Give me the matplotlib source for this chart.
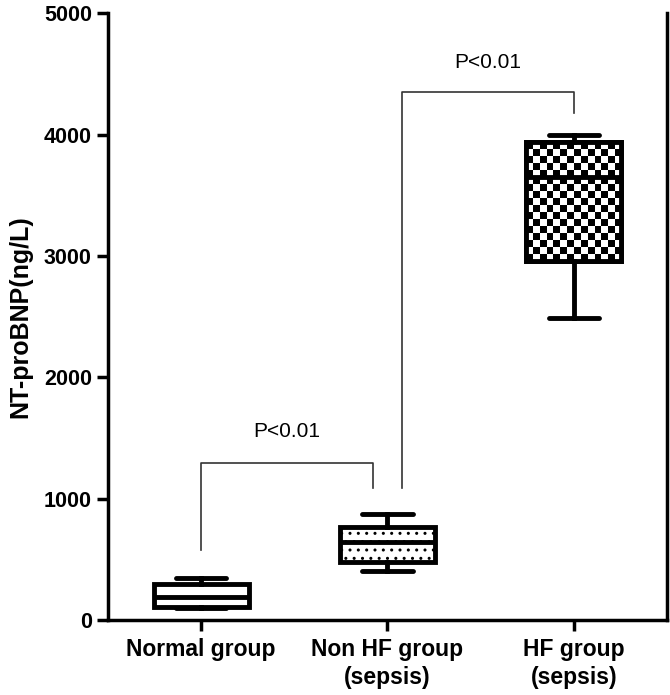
import numpy as np
import matplotlib
matplotlib.use('Agg')
import matplotlib.pyplot as plt

plt.rcParams['font.family'] = ['Liberation Sans', 'DejaVu Sans']
plt.rcParams['hatch.linewidth'] = 1.0

groups = ['Normal group', 'Non HF group\n(sepsis)', 'HF group\n(sepsis)']
whis_low = [95, 405, 2490]
q1 = [107, 478, 2960]
median = [190, 640, 3650]
q3 = [296, 766, 3940]
whis_high = [346, 873, 4000]

# significance brackets: (x_left, x_right, y_top, y_left_end, y_right_end, text_y, label)
brackets = [
    (1.0, 1.92, 1293, 580, 1090, 1550, 'P<0.01'),
    (2.08, 3.0, 4349, 1090, 4175, 4590, 'P<0.01'),
]

stats = []
for i, g in enumerate(groups):
    stats.append({'label': g, 'whislo': whis_low[i], 'q1': q1[i], 'med': median[i],
                  'q3': q3[i], 'whishi': whis_high[i], 'fliers': []})

fig = plt.figure(figsize=(6.7, 6.95), dpi=100)
ax = fig.add_axes([0.161, 0.108, 0.8345, 0.873])

lw = 3.5
bp = ax.bxp(stats, positions=[1, 2, 3], widths=0.51, patch_artist=True, showfliers=False,
            boxprops=dict(linewidth=lw, edgecolor='black', facecolor='white'),
            whiskerprops=dict(linewidth=lw, color='black'),
            capprops=dict(linewidth=lw, color='black', solid_capstyle='round'),
            medianprops=dict(linewidth=lw, color='black'),
            capwidths=0.27)

bp['boxes'][1].set_hatch('..')

# checkerboard fill for the HF box
box = bp['boxes'][2]
verts = box.get_path().vertices
x0, x1 = verts[:, 0].min(), verts[:, 0].max()
y0, y1 = verts[:, 1].min(), verts[:, 1].max()
nx, ny = 14, 17
checker = (np.add.outer(np.arange(ny), np.arange(nx)) % 2).astype(float)
im = ax.imshow(checker, cmap='gray', extent=(x0, x1, y0, y1), aspect='auto',
               interpolation='nearest', zorder=2.5)
im.set_clip_path(box)
for k in ('medians', 'caps', 'whiskers'):
    for a in bp[k]:
        a.set_zorder(3)
box.set_zorder(2)
edge = plt.Rectangle((x0, y0), x1 - x0, y1 - y0, fill=False, linewidth=lw,
                     edgecolor='black', zorder=3)
ax.add_patch(edge)

for xl, xr, yt, yl, yr, ty, lab in brackets:
    ax.plot([xl, xl, xr, xr], [yl, yt, yt, yr], color='#333333', linewidth=1.2)
    ax.text((xl + xr) / 2, ty, lab, ha='center', va='center', fontsize=15)

ax.set_xlim(0.5, 3.5)
ax.set_ylim(0, 5000)
ax.set_yticks([0, 1000, 2000, 3000, 4000, 5000])
ax.set_xticks([1, 2, 3])
ax.set_xticklabels(groups, fontsize=16.5, fontweight='bold', linespacing=1.3)
ax.tick_params(axis='y', labelsize=15.5, width=2.5, length=8)
ax.tick_params(axis='x', width=2.5, length=8, pad=5)
for t in ax.get_yticklabels():
    t.set_fontweight('bold')
ax.set_ylabel('NT-proBNP(ng/L)', fontsize=18, fontweight='bold', labelpad=8)

ax.spines['top'].set_visible(False)
for s in ('left', 'bottom', 'right'):
    ax.spines[s].set_linewidth(2.5)

fig.savefig('out.png', dpi=100)
